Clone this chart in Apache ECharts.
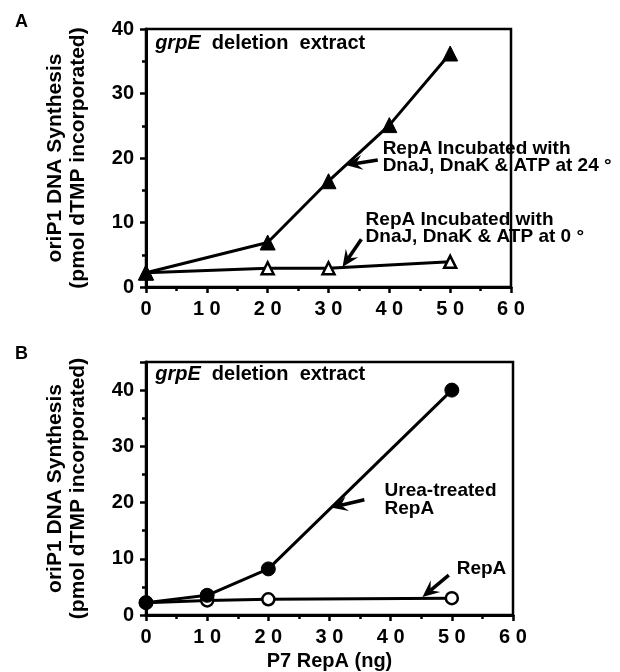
<!DOCTYPE html>
<html>
<head>
<meta charset="utf-8">
<script src="https://cdn.jsdelivr.net/npm/echarts@6/dist/echarts.min.js"></script>
<style>
html,body{margin:0;padding:0;background:#fff;}
#c{width:620px;height:672px;}
</style>
</head>
<body>
<div id="c"></div>
<script>
// ---- data ----
const xTickValues = [0, 10, 20, 30, 40, 50, 60];
const xTickLabels = ['0', '1 0', '2 0', '3 0', '4 0', '5 0', '6 0'];

// Panel A
const dosesA24 = [0, 20, 30, 40, 50];
const synthA24 = [2.2, 6.9, 16.4, 25.1, 36.2];
const dosesA0 = [0, 20, 30, 50];
const synthA0 = [2.2, 2.9, 2.9, 3.9];

// Panel B
const dosesUrea = [0, 10, 20, 50];
const synthUrea = [2.2, 3.5, 8.2, 40.0];
const dosesRepA = [0, 10, 20, 50];
const synthRepA = [2.2, 2.6, 2.8, 3.0];

const yTitle = 'oriP1 DNA Synthesis\n(pmol dTMP incorporated)';
const xTitleB = 'P7 RepA (ng)';
const labelA24 = ['RepA Incubated with', 'DnaJ, DnaK & ATP at 24 °'];
const labelA0 = ['RepA Incubated with', 'DnaJ, DnaK & ATP at 0 °'];
const labelUrea = ['Urea-treated', 'RepA'];
const labelRepA = ['RepA'];

const FONT = '"Liberation Sans", Arial, Helvetica, sans-serif';

function pairs(xs, ys) { return xs.map((x, i) => [x, ys[i]]); }

const chart = echarts.init(document.getElementById('c'), null, {renderer: 'canvas'});

function xAxisCfg(gi, withName) {
  return {
    type: 'value', gridIndex: gi, min: 0, max: 60, interval: 10,
    axisLine: {show: true, lineStyle: {color: '#000', width: 3}},
    axisTick: {show: true, inside: false, length: 6, lineStyle: {color: '#000', width: 2.5}},
    minorTick: {show: true, splitNumber: 2, length: 4, lineStyle: {color: '#000', width: 2.5}},
    splitLine: {show: false},
    axisLabel: {
      color: '#000', fontFamily: FONT, fontWeight: 'bold', fontSize: 20, margin: 12,
      formatter: v => { const i = xTickValues.indexOf(v); return i >= 0 ? xTickLabels[i] : ''; }
    },
    name: withName ? xTitleB : '',
    nameLocation: 'middle', nameGap: 36,
    nameTextStyle: {color: '#000', fontFamily: FONT, fontWeight: 'bold', fontSize: 20}
  };
}
function yAxisCfg(gi, max) {
  return {
    type: 'value', gridIndex: gi, min: 0, max: max, interval: 10,
    axisLine: {show: true, lineStyle: {color: '#000', width: 3}},
    axisTick: {show: true, inside: false, length: 6, lineStyle: {color: '#000', width: 2.5}},
    minorTick: {show: true, splitNumber: 2, length: 4, lineStyle: {color: '#000', width: 2.5}},
    splitLine: {show: false},
    axisLabel: {
      color: '#000', fontFamily: FONT, fontWeight: 'bold', fontSize: 20, margin: 12,
      formatter: v => (v % 10 === 0 && v <= 40) ? String(v) : ''
    },
    name: yTitle, nameLocation: 'middle', nameRotate: 90, nameGap: 56,
    nameTextStyle: {color: '#000', fontFamily: FONT, fontWeight: 'bold', fontSize: 21, lineHeight: 23}
  };
}

const lineStyle = {color: '#000', width: 3};

chart.setOption({
  animation: false,
  backgroundColor: '#fff',
  grid: [
    {left: 146, right: 109, top: 29, bottom: 385, show: true, borderColor: '#000', borderWidth: 2.5, backgroundColor: 'transparent'},
    {left: 146, right: 107, top: 362, bottom: 55, show: true, borderColor: '#000', borderWidth: 2.5, backgroundColor: 'transparent'}
  ],
  xAxis: [xAxisCfg(0, false), xAxisCfg(1, true)],
  yAxis: [yAxisCfg(0, 40), yAxisCfg(1, 45)],
  series: [
    {type: 'line', xAxisIndex: 0, yAxisIndex: 0, data: pairs(dosesA0, synthA0), symbol: 'triangle', symbolSize: 12,
     itemStyle: {color: '#fff', borderColor: '#000', borderWidth: 2.5}, lineStyle: lineStyle, z: 3},
    {type: 'line', xAxisIndex: 0, yAxisIndex: 0, data: pairs(dosesA24, synthA24), symbol: 'triangle', symbolSize: 15,
     itemStyle: {color: '#000', borderColor: '#000', borderWidth: 1}, lineStyle: lineStyle, z: 4},
    {type: 'line', xAxisIndex: 1, yAxisIndex: 1, data: pairs(dosesRepA, synthRepA), symbol: 'circle', symbolSize: 12,
     itemStyle: {color: '#fff', borderColor: '#000', borderWidth: 2.5}, lineStyle: lineStyle, z: 3},
    {type: 'line', xAxisIndex: 1, yAxisIndex: 1, data: pairs(dosesUrea, synthUrea), symbol: 'circle', symbolSize: 14,
     itemStyle: {color: '#000', borderColor: '#000', borderWidth: 1}, lineStyle: lineStyle, z: 4}
  ]
});

// ---- annotations anchored in data coordinates ----
function px(gi, x, y) { return chart.convertToPixel({gridIndex: gi}, [x, y]); }

const graphics = [];

function addLines(gi, x, y, lines, size, lh) {
  const p = px(gi, x, y);
  graphics.push({
    type: 'text', x: p[0], y: p[1],
    style: {text: lines.join('\n'), fill: '#000', font: 'bold ' + size + 'px ' + FONT,
            lineHeight: lh, textAlign: 'left', textVerticalAlign: 'middle'}
  });
}
function addTitle(gi, x, y) {
  const p = px(gi, x, y);
  graphics.push({
    type: 'text', x: p[0], y: p[1],
    style: {
      text: '{i|grpE}  deletion  extract',
      textAlign: 'left', textVerticalAlign: 'middle',
      rich: {i: {fontStyle: 'italic', fontWeight: 'bold', fontSize: 20, fontFamily: FONT, fill: '#000'}},
      font: 'bold 20px ' + FONT, fill: '#000'
    }
  });
}
function addArrow(gi, tail, head) {
  const t = px(gi, tail[0], tail[1]);
  const h = px(gi, head[0], head[1]);
  const dx = h[0] - t[0], dy = h[1] - t[1];
  const len = Math.sqrt(dx * dx + dy * dy);
  const ux = dx / len, uy = dy / len;
  const hl = 15, hw = 7.5;
  const bx = h[0] - ux * hl, by = h[1] - uy * hl;
  const nx = -uy, ny = ux;
  const nb = [h[0] - ux * hl * 0.7, h[1] - uy * hl * 0.7];
  graphics.push({type: 'line', shape: {x1: t[0], y1: t[1], x2: nb[0], y2: nb[1]},
                 style: {stroke: '#000', lineWidth: 3.5}, z: 10});
  graphics.push({type: 'polygon', shape: {points: [
      [h[0], h[1]], [bx + nx * hw - ux * 2, by + ny * hw - uy * 2], nb, [bx - nx * hw - ux * 2, by - ny * hw - uy * 2]]},
    style: {fill: '#000'}, z: 10});
}

addTitle(0, 1.5, 37.8);
addLines(0, 38.9, 20.1, labelA24, 19, 17.5);
addLines(0, 36.1, 9.1, labelA0, 19, 17.5);
addArrow(0, [38.1, 19.7], [32.8, 18.9]);
addArrow(0, [35.4, 7.4], [32.3, 3.1]);

addTitle(1, 1.5, 42.7);
addLines(1, 39.0, 20.5, labelUrea, 19, 17.5);
addLines(1, 50.8, 8.3, labelRepA, 19, 17.5);
addArrow(1, [35.7, 20.5], [30.2, 19.1]);
addArrow(1, [49.5, 7.1], [45.2, 3.2]);

// panel letters
graphics.push({type: 'text', x: 15, y: 22, style: {text: 'A', fill: '#000', font: 'bold 18px ' + FONT, textVerticalAlign: 'middle'}});
graphics.push({type: 'text', x: 15, y: 354, style: {text: 'B', fill: '#000', font: 'bold 18px ' + FONT, textVerticalAlign: 'middle'}});

chart.setOption({graphic: graphics});
</script>
</body>
</html>
